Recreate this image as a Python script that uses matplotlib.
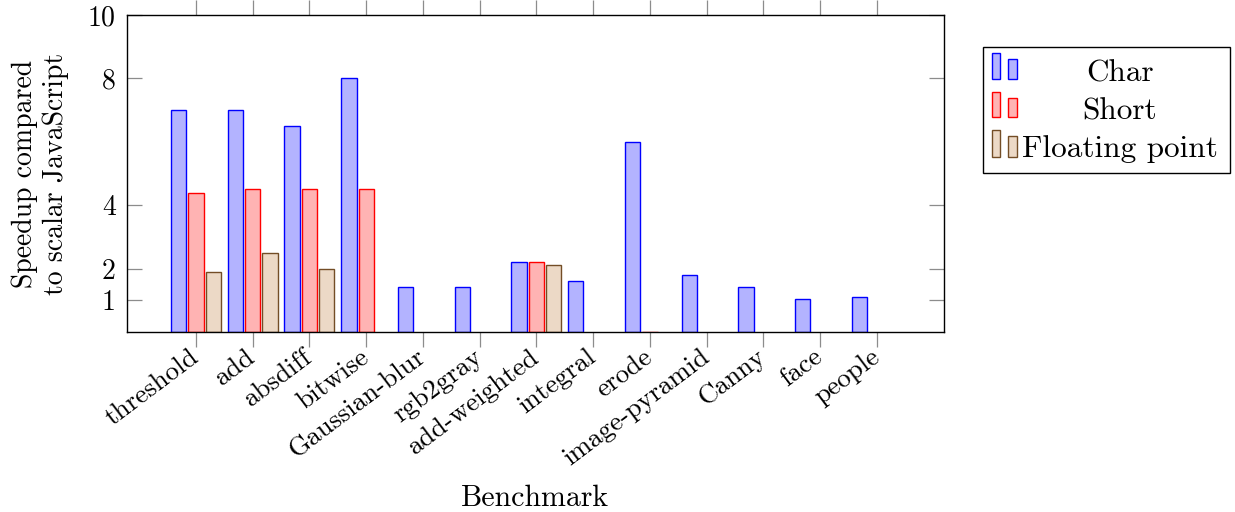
import numpy as np
import matplotlib
matplotlib.use('Agg')
import matplotlib.pyplot as plt
from matplotlib.patches import Rectangle

plt.rcParams['font.family'] = ['cmr10', 'DejaVu Serif']
plt.rcParams['mathtext.fontset'] = 'cm'
plt.rcParams['axes.formatter.use_mathtext'] = True

benchmarks = ['threshold', 'add', 'absdiff', 'bitwise', 'Gaussian-blur', 'rgb2gray',
              'add-weighted', 'integral', 'erode', 'image-pyramid', 'Canny', 'face', 'people']
nan = np.nan
char_speedup = [7.0, 7.0, 6.5, 8.0, 1.42, 1.42, 2.2, 1.6, 6.0, 1.8, 1.42, 1.05, 1.1]
short_speedup = [4.4, 4.5, 4.5, 4.5, nan, nan, 2.2, nan, 0.0, nan, nan, nan, nan]
float_speedup = [1.9, 2.5, 2.0, nan, nan, nan, 2.1, nan, nan, nan, nan, nan, nan]
series_names = ['Char', 'Short', 'Floating point']
y_ticks = [1, 2, 4, 8, 10]

edge_colors = ['#0000ff', '#ff0000', '#734d26']
fill_colors = ['#b3b3ff', '#ffb3b3', '#ecd9c6']

W, H = 1235, 512
fig = plt.figure(figsize=(W / 100, H / 100), dpi=100)
ax = fig.add_axes([127 / W, 1 - 332 / H, (944 - 127) / W, (332 - 15) / H])

x = np.arange(len(benchmarks))
shift = 0.305
width = 0.27
for k, vals in enumerate([char_speedup, short_speedup, float_speedup]):
    vals = np.array(vals, dtype=float)
    ok = ~np.isnan(vals)
    ax.bar(x[ok] + (k - 1) * shift, vals[ok], width=width, color=fill_colors[k],
           edgecolor=edge_colors[k], linewidth=1.0, zorder=2)

ax.set_xlim(-1.216, 13.185)
ax.set_ylim(0, 10)
ax.set_xticks(x)
ax.set_xticklabels(benchmarks, rotation=37, ha='right', va='center',
                   rotation_mode='anchor', fontsize=19.5)
ax.set_yticks(y_ticks)
ax.set_yticklabels([str(t) for t in y_ticks], fontsize=20)

ax.tick_params(axis='x', direction='out', length=11, width=0.9, color='0.55',
               top=True, bottom=True, pad=5)
ax.tick_params(axis='y', direction='in', length=11, width=0.9, color='0.55',
               left=True, right=True, pad=8)
for s in ax.spines.values():
    s.set_linewidth(1.0)
    s.set_color('black')

ax.set_xlabel('Benchmark', fontsize=21.5)
ax.xaxis.set_label_coords(0.5, -0.48)
ax.set_ylabel('Speedup compared\nto scalar JavaScript', fontsize=20,
              va='center', ha='center', multialignment='center', linespacing=1.2)
ax.yaxis.set_label_coords(-0.1065, 0.5)


# legend drawn by hand so the labels can be centred like pgfplots does
def fx(px):
    return px / W


def fy(py):
    return 1 - py / H


fig.add_artist(Rectangle((fx(983), fy(173)), fx(1230) - fx(983), fy(47) - fy(173),
                         transform=fig.transFigure, facecolor='white',
                         edgecolor='black', linewidth=1.0))
rows_top = [53, 92, 130]
rows_base = [79, 117, 157]
text_base = [81, 119, 157]
for k, name in enumerate(series_names):
    top, base = rows_top[k], rows_base[k]
    fig.add_artist(Rectangle((fx(992), fy(base)), fx(1000) - fx(992), fy(top) - fy(base),
                             transform=fig.transFigure, facecolor=fill_colors[k],
                             edgecolor=edge_colors[k], linewidth=1.0))
    fig.add_artist(Rectangle((fx(1008), fy(base)), fx(1017) - fx(1008),
                             fy(top + 6) - fy(base),
                             transform=fig.transFigure, facecolor=fill_colors[k],
                             edgecolor=edge_colors[k], linewidth=1.0))
    fig.text(fx(1120), fy(text_base[k]), name, ha='center', va='baseline', fontsize=22.5)

fig.savefig('out.png', dpi=100)
